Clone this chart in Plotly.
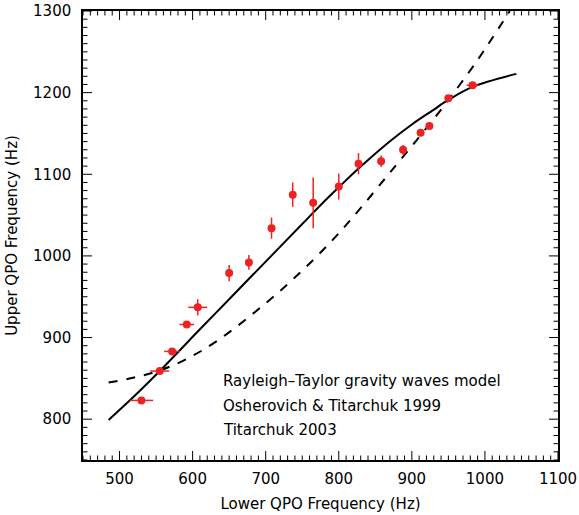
import numpy as np
import plotly.graph_objects as go

# Observed QPO pairs (Hz)
lower_qpo = [530, 555, 572, 592, 607, 650, 677, 708, 737, 765, 800, 827, 858, 888, 912, 924, 950, 983]
upper_qpo = [823, 859, 883, 916, 937, 979, 992, 1034, 1075, 1065, 1085, 1113, 1116, 1130, 1151, 1159, 1193, 1209]
lower_err = [16, 13, 11, 10, 13, 0, 0, 0, 0, 0, 0, 0, 0, 0, 0, 0, 4, 8]
upper_err = [0, 0, 0, 4, 10, 10, 9, 13, 15, 31, 16, 13, 7, 6, 2, 2, 0, 0]

# Model curves
model_rt_x = [485, 520, 555, 611, 650, 700, 750, 776, 800, 827, 868, 900, 928, 950, 983, 1043]
model_rt_y = [799, 828, 859, 911, 947, 993, 1039, 1063, 1084, 1107, 1139, 1161, 1178, 1191, 1207, 1223]
model_dash_x = [485, 520, 556, 590, 632, 700, 750, 790, 818, 870, 923, 950, 990, 1034]
model_dash_y = [845, 851, 860, 873, 895, 942, 982, 1018, 1046, 1102, 1160, 1191, 1240, 1300]

# Axis ticks
x_range = [450, 1100]
y_range = [750, 1300]
x_major = [500, 600, 700, 800, 900, 1000, 1100]
y_major = [800, 900, 1000, 1100, 1200, 1300]
minor_step = 10

annotation_lines = ["Rayleigh\u2013Taylor gravity waves model",
                    "Osherovich & Titarchuk 1999",
                    "Titarchuk 2003"]

FONT = "DejaVu Sans"
RED = "#ee2222"

W, H = 579, 515
L, T = 83, 11
pw, ph = 475, 449
R = W - L - pw
B = H - T - ph

fig = go.Figure()
fig.add_trace(go.Scatter(x=model_dash_x, y=model_dash_y, mode="lines",
                         line=dict(color="black", width=2, dash="dash", shape="spline", smoothing=1.0),
                         showlegend=False, hoverinfo="skip"))
fig.add_trace(go.Scatter(x=model_rt_x, y=model_rt_y, mode="lines",
                         line=dict(color="black", width=2, shape="spline", smoothing=1.0),
                         showlegend=False, hoverinfo="skip"))
fig.add_trace(go.Scatter(x=lower_qpo, y=upper_qpo, mode="markers",
                         marker=dict(color=RED, size=8),
                         error_x=dict(type="data", array=lower_err, color=RED, thickness=1.5, width=0),
                         error_y=dict(type="data", array=upper_err, color=RED, thickness=1.5, width=0),
                         showlegend=False))

# IDL-style inside ticks on all four sides (major + minor), built from the tick values
xpp = (x_range[1] - x_range[0]) / pw   # data units per pixel
ypp = (y_range[1] - y_range[0]) / ph
x_minor = [v for v in np.arange(x_range[0], x_range[1] + 1, minor_step) if v not in x_major]
y_minor = [v for v in np.arange(y_range[0], y_range[1] + 1, minor_step) if v not in y_major]
tx, ty = [], []
for vals, ln in ((x_major, 9), (x_minor, 4.5)):
    for v in vals:
        tx += [v, v, None, v, v, None]
        ty += [y_range[0], y_range[0] + ln * ypp, None, y_range[1], y_range[1] - ln * ypp, None]
for vals, ln in ((y_major, 9), (y_minor, 4.5)):
    for v in vals:
        tx += [x_range[0], x_range[0] + ln * xpp, None, x_range[1], x_range[1] - ln * xpp, None]
        ty += [v, v, None, v, v, None]
fig.add_trace(go.Scatter(x=tx, y=ty, mode="lines", line=dict(color="black", width=1),
                         showlegend=False, hoverinfo="skip", cliponaxis=False))

axis_common = dict(showline=True, linecolor="black", linewidth=1.5, mirror=True,
                   ticks="", showgrid=False, zeroline=False, automargin=False,
                   ticklabeloverflow="allow",
                   tickfont=dict(family=FONT, size=15, color="black"))

fig.update_xaxes(range=x_range, tickvals=x_major, ticklabelstandoff=4,
                 title=dict(text="Lower QPO Frequency (Hz)", font=dict(family=FONT, size=15, color="black"), standoff=12),
                 **axis_common)
fig.update_yaxes(range=y_range, tickvals=y_major, ticklabelstandoff=7,
                 title=dict(text="Upper QPO Frequency (Hz)", font=dict(family=FONT, size=15, color="black"), standoff=12),
                 **axis_common)

for i, txt in enumerate(annotation_lines):
    px, py = 221, 381 + 24.5 * i
    fig.add_annotation(x=(px - L) / pw, y=1 - (py - T) / ph, xref="paper", yref="paper",
                       text=txt, showarrow=False,
                       font=dict(family=FONT, size=15, color="black"), xanchor="left", yanchor="middle")

fig.update_layout(template="none", width=W, height=H,
                  margin=dict(l=L, r=R, t=T, b=B, autoexpand=False),
                  plot_bgcolor="white", paper_bgcolor="white",
                  font=dict(family=FONT, color="black"))

fig.write_html("out.html", config={"displayModeBar": False},
               post_script="document.body.style.margin='0';document.body.style.overflow='hidden';")
